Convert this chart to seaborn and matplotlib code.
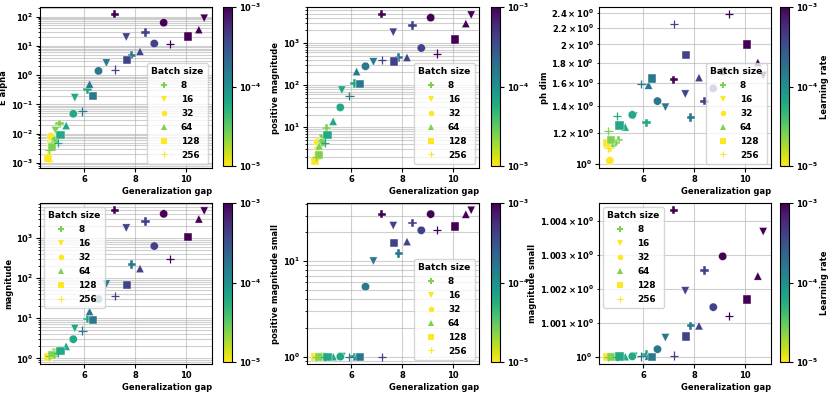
import numpy as np
import pandas as pd
import matplotlib
matplotlib.use("Agg")
import matplotlib.pyplot as plt
from matplotlib.colors import LogNorm
from matplotlib.lines import Line2D
from matplotlib.ticker import MultipleLocator
import seaborn as sns

# one row per run: batch size x learning rate
batch_size = [8, 8, 8, 8, 8, 8,
              16, 16, 16, 16, 16, 16,
              32, 32, 32, 32, 32, 32,
              64, 64, 64, 64, 64, 64,
              128, 128, 128, 128, 128, 128,
              256, 256, 256, 256, 256, 256]
learning_rate = [1e-5, 2.5e-5, 6.3e-5, 1.6e-4, 4e-4, 1e-3] * 6
gen_gap = [4.72, 5.04, 6.14, 7.88, 8.42, 7.21,
           4.68, 4.88, 5.64, 6.88, 7.66, 10.72,
           4.70, 4.86, 5.58, 6.57, 8.76, 9.13,
           4.62, 4.75, 5.30, 6.22, 8.20, 10.51,
           4.58, 4.75, 5.08, 6.36, 7.68, 10.09,
           4.62, 4.64, 4.98, 5.94, 7.21, 9.38]

e_alpha = [0.005, 0.022, 0.32, 4.8, 29, 120,
           0.003, 0.013, 0.17, 2.6, 20, 88,
           0.008, 0.006, 0.048, 1.4, 12, 62,
           0.0021, 0.0045, 0.019, 0.5, 6.5, 36,
           0.0015, 0.0035, 0.009, 0.19, 3.3, 21,
           0.0012, 0.0028, 0.0048, 0.058, 1.55, 11.5]
positive_magnitude = [2.4, 9.6, 110, 455, 2600, 4800,
                      2.7, 5.5, 76, 355, 1800, 4600,
                      4.4, 4.3, 29.5, 280, 760, 4000,
                      2.1, 3.6, 13.8, 210, 455, 2900,
                      1.6, 2.2, 6.5, 107, 365, 1200,
                      1.8, 2.0, 4.3, 55, 400, 560]
ph_dim = [1.10, 1.15, 1.27, 1.31, 1.44, 1.63,
          1.09, 1.12, 1.32, 1.39, 1.50, 1.67,
          1.02, 1.13, 1.33, 1.44, 1.55, 1.71,
          1.12, 1.13, 1.24, 1.58, 1.65, 1.80,
          1.13, 1.15, 1.25, 1.64, 1.88, 2.00,
          1.10, 1.21, 1.32, 1.59, 2.25, 2.38]
magnitude = [1.2, 1.6, 9.6, 218, 2600, 4900,
             1.15, 1.4, 5.6, 71, 1770, 4700,
             1.25, 1.3, 3.0, 30, 630, 4000,
             1.12, 1.25, 2.0, 14.7, 173, 3000,
             1.1, 1.2, 1.5, 8.9, 67, 1050,
             1.1, 1.15, 1.35, 4.9, 36, 295]
positive_magnitude_small = [1, 1, 1, 12, 25, 31,
                            1, 1, 1, 10, 23.5, 34,
                            1, 1, 1, 5.4, 21, 31,
                            1, 1, 1, 1, 16, 31,
                            1, 1, 1, 1, 15.4, 23,
                            1, 1, 1, 1, 1, 21.2]
magnitude_small = [1.0, 1.0, 1.00006, 1.00091, 1.00254, 1.00432,
                   1.0, 1.0, 1.00001, 1.00056, 1.00194, 1.00369,
                   1.0, 1.0, 1.00001, 1.00022, 1.00146, 1.00296,
                   1.0, 1.0, 1.0, 1.00002, 1.00091, 1.00238,
                   1.0, 1.0, 1.00001, 1.0, 1.00059, 1.00169,
                   1.0, 1.0, 1.0, 1.00001, 1.00003, 1.0012]

batch_sizes = [8, 16, 32, 64, 128, 256]
legend_lr = [2.5e-5, 1e-5, 1e-5, 2.5e-5, 1e-5, 1e-5]
markers = {8: "P", 16: "v", 32: "o", 64: "^", 128: "s", 256: "+"}

df = pd.DataFrame({
    "batch_size": batch_size,
    "lr": learning_rate,
    "gap": gen_gap,
    "E alpha": e_alpha,
    "positive magnitude": positive_magnitude,
    "ph dim": ph_dim,
    "magnitude": magnitude,
    "positive magnitude small": positive_magnitude_small,
    "magnitude small": magnitude_small,
})

FS = 6
plt.rcParams["font.family"] = ["DejaVu Sans"]
plt.rcParams["font.weight"] = "bold"
plt.rcParams["axes.labelweight"] = "bold"
plt.rcParams["font.size"] = FS
plt.rcParams["axes.labelpad"] = 2
plt.rcParams["xtick.major.pad"] = 2
plt.rcParams["ytick.major.pad"] = 2
plt.rcParams["ytick.minor.pad"] = 2
plt.rcParams["xtick.major.size"] = 3
plt.rcParams["ytick.major.size"] = 3
plt.rcParams["ytick.minor.size"] = 1.5

norm = LogNorm(vmin=1e-5, vmax=1e-3)
cmap = plt.get_cmap("viridis_r")

W, H = 831, 393
fig = plt.figure(figsize=(W / 100, H / 100), dpi=100)

metrics = ["E alpha", "positive magnitude", "ph dim",
           "magnitude", "positive magnitude small", "magnitude small"]
legend_loc = ["lower right", "lower right", "lower right",
              "upper left", "lower right", "upper left"]
ax_left = [40, 307, 599]
cb_left = [223, 491, 780]
row_top = [7, 203]
row_bot = [168, 364]

for i, metric in enumerate(metrics):
    r, c = divmod(i, 3)
    ax = fig.add_axes([ax_left[c] / W, 1 - row_bot[r] / H, 172 / W, (row_bot[r] - row_top[r]) / H])
    cax = fig.add_axes([cb_left[c] / W, 1 - (row_bot[r] - 2) / H, 9 / W, (row_bot[r] - row_top[r] - 2) / H])

    for bs in batch_sizes:
        sub = df[df["batch_size"] == bs]
        sns.scatterplot(data=sub, x="gap", y=metric, hue="lr", hue_norm=norm,
                        palette="viridis_r", marker=markers[bs], s=36,
                        linewidth=0.3 if bs != 256 else 0.9,
                        ax=ax, legend=False)
    ax.set_yscale("log")
    ax.xaxis.set_major_locator(MultipleLocator(2))
    ax.set_xlabel("Generalization gap", loc="right")
    ax.set_ylabel(metric)
    ax.grid(True, which="both", color="#b0b0b0", linewidth=0.8, alpha=0.6)
    ax.set_axisbelow(True)
    ax.tick_params(labelsize=FS)
    ax.tick_params(which="minor", labelsize=FS)
    for lab in ax.get_xticklabels() + ax.get_yticklabels(which="both"):
        lab.set_fontweight("bold")

    handles = [Line2D([], [], linestyle="none", marker=markers[bs],
                      color=cmap(norm(lr)), markersize=4, markeredgewidth=0.8 if bs == 256 else 0)
               for bs, lr in zip(batch_sizes, legend_lr)]
    ax.legend(handles, [str(b) for b in batch_sizes], title="Batch size",
              loc=legend_loc[i], fontsize=FS + 0.4, title_fontproperties={"weight": "bold", "size": FS + 0.6},
              handletextpad=0.9, labelspacing=0.55, borderpad=0.45)

    sm = plt.cm.ScalarMappable(norm=norm, cmap=cmap)
    cb = fig.colorbar(sm, cax=cax)
    cb.minorticks_off()
    cb.ax.tick_params(labelsize=FS)
    for lab in cb.ax.get_yticklabels():
        lab.set_fontweight("bold")
    if c == 2:
        cb.set_label("Learning rate", fontweight="bold", labelpad=1)

fig.savefig("out.png", dpi=100)
